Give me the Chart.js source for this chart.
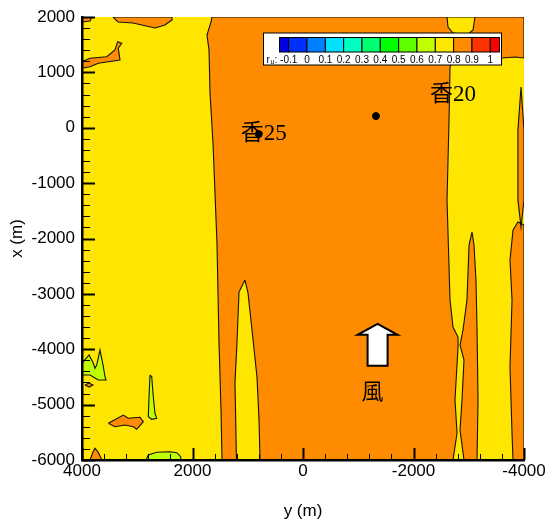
<!DOCTYPE html>
<html>
<head>
<meta charset="utf-8">
<script src="https://cdn.jsdelivr.net/npm/chart.js@4/dist/chart.umd.min.js"></script>
<style>body{margin:0;background:#fff}</style>
</head>
<body>
<canvas id="ruChart" width="547" height="525"></canvas>
<script>
// axes (m): horizontal = y, vertical = x
const yTickValues = [4000, 2000, 0, -2000, -4000];
const xTickValues = [2000, 1000, 0, -1000, -2000, -3000, -4000, -5000, -6000];

// colour legend of r_u
const legendLevels = [-0.15, -0.1, 0, 0.1, 0.2, 0.3, 0.4, 0.5, 0.6, 0.7, 0.8, 0.9, 1.0, 1.05];
const legendLabels = ['-0.1', '0', '0.1', '0.2', '0.3', '0.4', '0.5', '0.6', '0.7', '0.8', '0.9', '1'];
const legendColors = ['#0000e0', '#0030ff', '#0080ff', '#00e0ff', '#00ffc0', '#00ff70', '#00ff00',
  '#60ff00', '#c0ff00', '#ffe600', '#ff8c00', '#ff3300', '#ff0000'];

// probes
const probeNames = ['香20', '香25'];
const probeY = [-1320, 800];
const probeX = [210, -115];

// contour polygons, [y, x] in metres
const mainBand = [[1647, 2000], [1665, 1910], [1738, 1675], [1701, 1404], [1683, 628], [1629, -276],
  [1557, -2082], [1520, -3887], [1484, -5097], [1466, -6000], [-2715, -6000], [-2788, -5513],
  [-2751, -4917], [-2806, -3960], [-2806, -3779], [-2715, -3599], [-2661, -3111], [-2607, -1305],
  [-2643, 140], [-2661, 1097], [-2697, 1187], [-3385, 1223], [-3602, 1260], [-3837, 1278],
  [-4000, 1260], [-4000, 2000], [1647, 2000]];
const topYellowBlob = [[-2607, 2000], [-2625, 1819], [-2715, 1711], [-2969, 1675], [-3077, 1765],
  [-3113, 2000], [-2607, 2000]];
const innerYellowSpike = [[1050, -2750], [1158, -2967], [1195, -3887], [1231, -4610], [1204, -6000],
  [778, -6000], [796, -5278], [833, -4502], [923, -3653], [995, -2985], [1050, -2750]];
const rightSpike = [[-3059, -1883], [-3005, -2118], [-2968, -3111], [-2896, -3653], [-2842, -3924],
  [-2914, -4195], [-2878, -4917], [-2842, -5459], [-2914, -6000], [-3150, -6000], [-3168, -4917],
  [-3150, -3653], [-3131, -2750], [-3095, -2118], [-3059, -1883]];
const rightStrip = [[-3801, -1847], [-3747, -2388], [-3783, -3111], [-3747, -4321], [-3783, -5513],
  [-3801, -6000], [-4000, -6000], [-4000, -1756], [-3891, -1702], [-3801, -1847]];
const rightLens = [[-3946, 736], [-3890, -41], [-3890, -1305], [-3946, -1793], [-4000, -1305],
  [-4000, -41], [-3946, 736]];
const topLeftBlob = [[3439, 2000], [3348, 1910], [3077, 1892], [2679, 1801], [2498, 1856],
  [2371, 1946], [2371, 2000], [3439, 2000]];
const cornerBlob = [[4000, 2000], [3819, 2000], [3855, 1928], [4000, 1910], [4000, 2000]];
const leftBlob = [[4000, 1193], [3855, 1254], [3553, 1283], [3403, 1404], [3354, 1554], [3281, 1525],
  [3343, 1435], [3312, 1223], [3524, 1193], [3705, 1164], [3855, 1102], [4000, 1074], [4000, 1193]];
const greenLeft = [[4000, -4254], [3873, -4104], [3795, -4254], [3765, -4344], [3734, -4285],
  [3674, -4014], [3614, -4315], [3584, -4496], [3566, -4556], [3705, -4556], [3855, -4465],
  [4000, -4465], [4000, -4254]];
const greenSliver = [[2769, -4465], [2738, -4496], [2710, -4857], [2679, -5157], [2648, -5247],
  [2738, -5265], [2800, -5218], [2787, -4857], [2769, -4465]];
const smallDiamond = [[3946, -4646], [3873, -4610], [3801, -4646], [3873, -4682], [3946, -4646]];
const lowerBlob = [[3524, -5338], [3252, -5188], [3162, -5247], [2950, -5229], [2890, -5309],
  [3010, -5446], [3071, -5399], [3222, -5368], [3403, -5399], [3524, -5338]];
const bottomTriangle = [[3855, -6000], [3801, -5856], [3765, -5789], [3710, -5856], [3638, -6000]];
const bottomGreen = [[2842, -6000], [2800, -5910], [2648, -5861], [2407, -5850], [2286, -5868],
  [2214, -5940], [2214, -6000]];

const YELLOW = '#ffe600', ORANGE = '#ff8c00', GREEN = '#c0ff00';

function region(points, color) {
  return {
    data: points.map(p => ({x: p[0], y: p[1]})),
    fill: 'shape',
    backgroundColor: color,
    borderColor: '#111',
    borderWidth: 1.1,
    pointRadius: 0,
    tension: 0
  };
}

// listed bottom first
const layers = [
  region(mainBand, ORANGE),
  region(topYellowBlob, YELLOW),
  region(innerYellowSpike, YELLOW),
  region(rightSpike, ORANGE),
  region(rightStrip, ORANGE),
  region(rightLens, ORANGE),
  region(topLeftBlob, ORANGE),
  region(cornerBlob, ORANGE),
  region(leftBlob, ORANGE),
  region(greenLeft, GREEN),
  region(greenSliver, GREEN),
  region(smallDiamond, ORANGE),
  region(lowerBlob, ORANGE),
  region(bottomTriangle, ORANGE),
  region(bottomGreen, GREEN),
  {
    data: probeY.map((v, i) => ({x: v, y: probeX[i]})),
    showLine: false,
    pointRadius: 3.5,
    pointBackgroundColor: '#000',
    pointBorderColor: '#000'
  }
];

const fieldPlugin = {
  id: 'field',
  beforeDraw(chart) {
    const {ctx, chartArea: ca} = chart;
    ctx.save();
    ctx.fillStyle = YELLOW;
    ctx.fillRect(ca.left, ca.top, ca.right - ca.left, ca.bottom - ca.top);
    ctx.restore();
  },
  afterDatasetsDraw(chart) {
    const {ctx, chartArea: ca, scales: {x, y}} = chart;
    ctx.save();
    ctx.strokeStyle = '#000';
    // inward ticks
    for (let v = 4000; v >= -4000; v -= 400) {
      const major = v % 2000 === 0;
      const px = Math.round(x.getPixelForValue(v)) + 0.5;
      ctx.lineWidth = major ? 2 : 1;
      ctx.beginPath();
      ctx.moveTo(px, ca.bottom);
      ctx.lineTo(px, ca.bottom - (major ? 12 : 6));
      ctx.stroke();
    }
    for (let v = 2000; v >= -6000; v -= 200) {
      const major = v % 1000 === 0;
      const py = Math.round(y.getPixelForValue(v)) + 0.5;
      ctx.lineWidth = major ? 2 : 1;
      ctx.beginPath();
      ctx.moveTo(ca.left, py);
      ctx.lineTo(ca.left + (major ? 13 : 8), py);
      ctx.stroke();
    }

    // probe labels
    ctx.fillStyle = '#000';
    ctx.font = '23px "Liberation Serif", "Noto Sans CJK JP", serif';
    ctx.textBaseline = 'middle';
    ctx.textAlign = 'left';
    const p0x = x.getPixelForValue(probeY[0]), p0y = y.getPixelForValue(probeX[0]);
    ctx.fillText(probeNames[0], p0x + 54, p0y - 21);
    const p1x = x.getPixelForValue(probeY[1]), p1y = y.getPixelForValue(probeX[1]);
    ctx.fillText(probeNames[1], p1x - 18, p1y);

    // wind arrow
    const ax = x.getPixelForValue(-1350), ay = y.getPixelForValue(-3540);
    ctx.beginPath();
    ctx.moveTo(ax, ay);
    ctx.lineTo(ax + 20, ay + 11);
    ctx.lineTo(ax + 10, ay + 11);
    ctx.lineTo(ax + 10, ay + 42);
    ctx.lineTo(ax - 10, ay + 42);
    ctx.lineTo(ax - 10, ay + 11);
    ctx.lineTo(ax - 20, ay + 11);
    ctx.closePath();
    ctx.fillStyle = '#fff';
    ctx.fill();
    ctx.lineWidth = 2;
    ctx.lineJoin = 'miter';
    ctx.stroke();
    ctx.fillStyle = '#000';
    ctx.font = '22px "Noto Sans CJK JP", sans-serif';
    ctx.textAlign = 'center';
    ctx.fillText('風', ax - 5, ay + 67);

    // colour legend
    const bx = ca.left + 181.5, by = ca.top + 16, bw = 238, bh = 32;
    ctx.fillStyle = '#fff';
    ctx.fillRect(bx, by, bw, bh);
    ctx.lineWidth = 1;
    ctx.strokeRect(bx, by, bw, bh);
    const zero = ca.left + 225, unit = 183.3;
    const lx = v => zero + v * unit;
    for (let i = 0; i < legendColors.length; i++) {
      const x0 = lx(legendLevels[i]), x1 = lx(legendLevels[i + 1]);
      ctx.fillStyle = legendColors[i];
      ctx.fillRect(x0, by + 4.5, x1 - x0, 14.5);
      ctx.strokeRect(x0, by + 4.5, x1 - x0, 14.5);
    }
    ctx.fillStyle = '#000';
    ctx.font = '10px "Liberation Sans", Arial, sans-serif';
    ctx.textAlign = 'center';
    legendLabels.forEach((t, i) => ctx.fillText(t, lx(legendLevels[i + 1]), by + 27));
    ctx.textAlign = 'left';
    ctx.fillText('r', bx + 3, by + 27);
    ctx.font = '7px "Liberation Sans", Arial, sans-serif';
    ctx.fillText('u', bx + 7, by + 29);
    ctx.font = '10px "Liberation Sans", Arial, sans-serif';
    ctx.fillText(':', bx + 11, by + 27);
    ctx.restore();
  }
};

const tickFont = {family: '"Liberation Sans", Arial, sans-serif', size: 17, lineHeight: 1.2};

new Chart(document.getElementById('ruChart'), {
  type: 'line',
  data: {datasets: layers.reverse()},
  options: {
    responsive: false,
    animation: false,
    layout: {padding: {left: 0, right: 23, top: 17, bottom: 0}},
    plugins: {legend: {display: false}, tooltip: {enabled: false}},
    scales: {
      x: {
        type: 'linear',
        reverse: true,
        min: -4000,
        max: 4000,
        grid: {display: false, drawTicks: false},
        border: {display: true, color: '#000', width: 2.5, z: 1},
        ticks: {color: '#000', font: tickFont, padding: 1, maxRotation: 0, autoSkip: false,
          callback: v => String(v)},
        afterBuildTicks: s => { s.ticks = yTickValues.map(v => ({value: v})); },
        afterFit: s => { s.height = 65; s.paddingLeft = 0; s.paddingRight = 0; },
        title: {display: true, text: 'y (m)', color: '#000', font: tickFont, padding: {top: 0, bottom: 3}}
      },
      y: {
        type: 'linear',
        min: -6000,
        max: 2000,
        grid: {display: false, drawTicks: false},
        border: {display: true, color: '#000', width: 2.5, z: 1},
        ticks: {color: '#000', font: tickFont, padding: 7, autoSkip: false,
          callback: v => String(v)},
        afterBuildTicks: s => { s.ticks = xTickValues.map(v => ({value: v})); },
        afterFit: s => { s.width = 82; s.paddingTop = 0; s.paddingBottom = 0; },
        title: {display: true, text: 'x (m)', color: '#000', font: tickFont, padding: {top: 7, bottom: 0}}
      }
    }
  },
  plugins: [fieldPlugin]
});
</script>
</body>
</html>
